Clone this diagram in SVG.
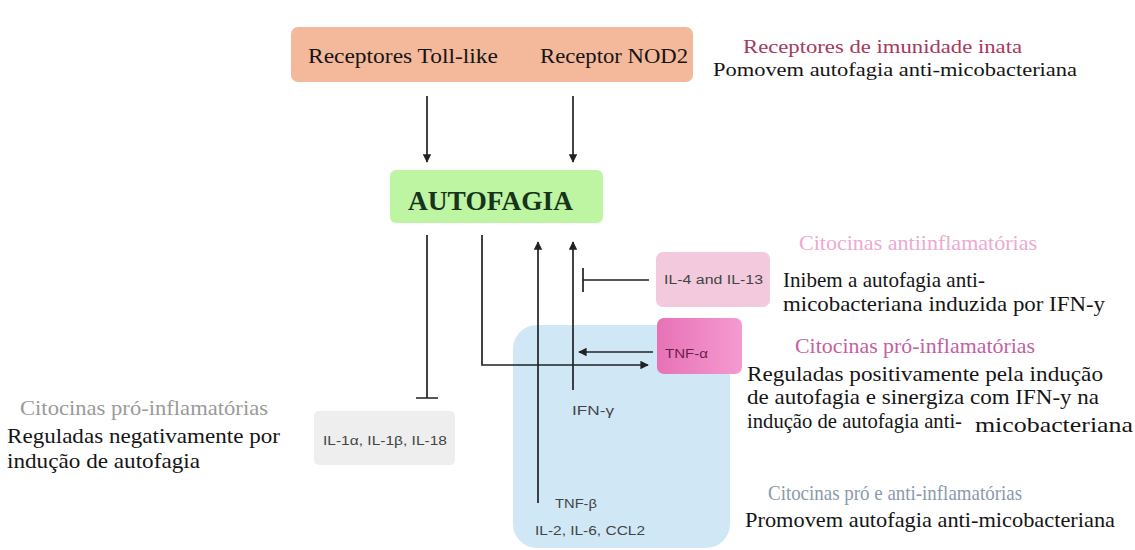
<svg xmlns="http://www.w3.org/2000/svg" width="1135" height="550" viewBox="0 0 1135 550">
<defs>
<marker id="ah" viewBox="0 0 10 10" refX="9" refY="5" markerWidth="5" markerHeight="5" orient="auto" markerUnits="strokeWidth">
<path d="M0,0 L10,5 L0,10 z" fill="#222"/>
</marker>
<linearGradient id="tnfg" x1="0" y1="0" x2="1" y2="0">
<stop offset="0" stop-color="#e772b6"/>
<stop offset="1" stop-color="#f59ad0"/>
</linearGradient>
<style>
.s{font-family:"Liberation Serif","Times New Roman",serif;font-size:22px;fill:#151515}
.t{font-size:19px}
.l{font-family:"Liberation Sans",Arial,sans-serif;font-size:12.5px;fill:#444}
.c{stroke:#222;stroke-width:1.7;fill:none}
</style>
</defs>
<rect width="1135" height="550" fill="#ffffff"/>

<g id="receptores">
<rect x="291" y="27" width="402" height="55" rx="7" fill="#f4b89b"/>
<text class="s" x="308" y="63" textLength="190" lengthAdjust="spacingAndGlyphs">Receptores Toll-like</text>
<text class="s" x="540" y="63" textLength="148" lengthAdjust="spacingAndGlyphs">Receptor NOD2</text>
</g>

<g id="legenda-inata">
<text class="s t" x="743" y="53" textLength="279" lengthAdjust="spacingAndGlyphs" style="fill:#a8385c">Receptores de imunidade inata</text>
<text class="s t" x="713" y="76" textLength="364" lengthAdjust="spacingAndGlyphs">Pomovem autofagia anti-micobacteriana</text>
</g>

<g id="autofagia">
<rect x="390" y="170" width="213" height="53" rx="6" fill="#bdf5a2"/>
<text x="408" y="210" textLength="165" lengthAdjust="spacingAndGlyphs" style="font-family:'Liberation Serif',serif;font-weight:bold;font-size:27px;fill:#17331a">AUTOFAGIA</text>
</g>

<g id="bloco-azul">
<rect x="513" y="325" width="217" height="223" rx="24" fill="#d0e7f6"/>
<text class="l" x="572" y="415" textLength="42" lengthAdjust="spacingAndGlyphs">IFN-γ</text>
<text class="l" x="555" y="508" textLength="42" lengthAdjust="spacingAndGlyphs">TNF-β</text>
<text class="l" x="535" y="535" textLength="110" lengthAdjust="spacingAndGlyphs">IL-2, IL-6, CCL2</text>
</g>

<g id="il4-il13">
<rect x="656" y="252" width="114" height="55" rx="7" fill="#f3c9dd"/>
<text class="l" x="664" y="284" textLength="99" lengthAdjust="spacingAndGlyphs">IL-4 and IL-13</text>
</g>

<g id="tnf-alfa">
<rect x="657" y="318" width="85" height="56" rx="7" fill="url(#tnfg)"/>
<text class="l" x="665" y="358" textLength="43" lengthAdjust="spacingAndGlyphs" style="fill:#6e1c48">TNF-α</text>
</g>

<g id="il1">
<rect x="314" y="411" width="141" height="54" rx="5" fill="#eeeeee"/>
<text class="l" x="323" y="445" textLength="124" lengthAdjust="spacingAndGlyphs">IL-1α, IL-1β, IL-18</text>
</g>

<g id="legenda-anti">
<text class="s" x="799" y="250" textLength="238" lengthAdjust="spacingAndGlyphs" style="fill:#ecaad2">Citocinas antiinflamatórias</text>
<text class="s" x="783" y="287" textLength="202" lengthAdjust="spacingAndGlyphs">Inibem a autofagia anti-</text>
<text class="s" x="783" y="311" textLength="322" lengthAdjust="spacingAndGlyphs">micobacteriana induzida por IFN-y</text>
</g>

<g id="legenda-pro">
<text class="s" x="795" y="353" textLength="240" lengthAdjust="spacingAndGlyphs" style="fill:#c5609f">Citocinas pró-inflamatórias</text>
<text class="s" x="747" y="381" textLength="356" lengthAdjust="spacingAndGlyphs">Reguladas positivamente pela indução</text>
<text class="s" x="747" y="404" textLength="352" lengthAdjust="spacingAndGlyphs">de autofagia e sinergiza com IFN-y na</text>
<text class="s" x="747" y="428" textLength="215" lengthAdjust="spacingAndGlyphs">indução de autofagia anti-</text>
<text class="s" x="975" y="432" textLength="158" lengthAdjust="spacingAndGlyphs">micobacteriana</text>
</g>

<g id="legenda-pro-anti">
<text class="s" x="768" y="500" textLength="254" lengthAdjust="spacingAndGlyphs" style="fill:#8a9aac">Citocinas pró e anti-inflamatórias</text>
<text class="s" x="745" y="527" textLength="370" lengthAdjust="spacingAndGlyphs">Promovem autofagia anti-micobacteriana</text>
</g>

<g id="legenda-esquerda">
<text class="s" x="20" y="415" textLength="248" lengthAdjust="spacingAndGlyphs" style="fill:#9a9a9a">Citocinas pró-inflamatórias</text>
<text class="s" x="7" y="443" textLength="273" lengthAdjust="spacingAndGlyphs">Reguladas negativamente por</text>
<text class="s" x="7" y="468" textLength="193" lengthAdjust="spacingAndGlyphs">indução de autofagia</text>
</g>

<g id="conectores">
<path class="c" d="M427,96 V162" marker-end="url(#ah)"/>
<path class="c" d="M573,96 V162" marker-end="url(#ah)"/>
<path class="c" d="M427,235 V398 M416,398 H438"/>
<path class="c" d="M482,235 V365 H648" marker-end="url(#ah)"/>
<path class="c" d="M538,503 V242" marker-end="url(#ah)"/>
<path class="c" d="M573,390 V242" marker-end="url(#ah)"/>
<path class="c" d="M649,280 H583 M583,268 V292"/>
<path class="c" d="M653,352 H579" marker-end="url(#ah)"/>
</g>
</svg>
